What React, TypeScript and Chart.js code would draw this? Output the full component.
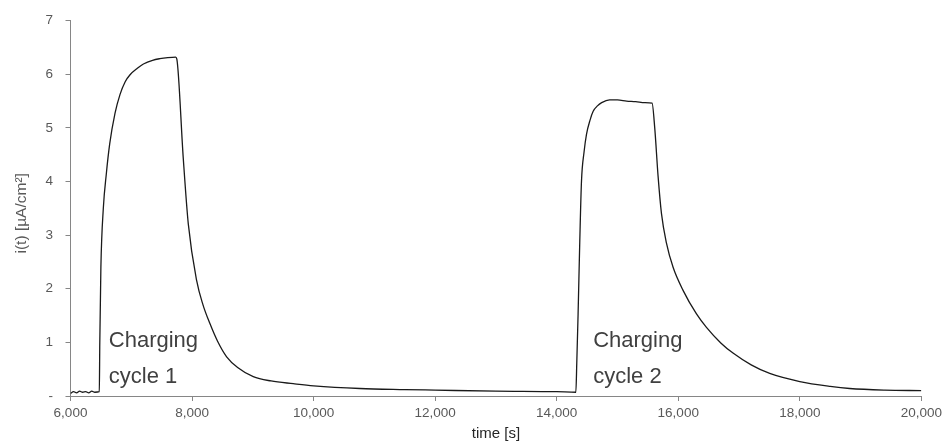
import React, { useEffect, useRef } from "react";
import { Chart, registerables } from "chart.js";

Chart.register(...registerables);

// time in seconds
const timeSeconds: number[] = [
  6000, 6050, 6100, 6150, 6200, 6250, 6300, 6350, 6400, 6474,
  6482, 6500, 6540, 6590, 6645, 6732, 6814, 6900, 6980, 7100,
  7200, 7350, 7470, 7600, 7730, 7750, 7855, 7938, 8076, 8180,
  8294, 8420, 8569, 8750, 9007, 9300, 9665, 10000, 10760, 11500,
  12000, 13000, 14000, 14315, 14330, 14352, 14380, 14408, 14450, 14490,
  14550, 14600, 14670, 14740, 14870, 15000, 15150, 15300, 15450, 15569,
  15613, 15668, 15724, 15806, 15915, 16079, 16300, 16464, 16700, 16901,
  17200, 17505, 18000, 18500, 18820, 19400, 20000,
];

// current density i(t) in µA/cm²
const currentValues: number[] = [
  0.05, 0.08, 0.06, 0.09, 0.07, 0.08, 0.06, 0.09, 0.07, 0.08,
  1.0, 2.4, 3.5, 4.15, 4.7, 5.27, 5.62, 5.86, 5.99, 6.11,
  6.19, 6.26, 6.29, 6.31, 6.32, 6.28, 4.44, 3.21, 2.15, 1.7,
  1.35, 1.02, 0.73, 0.53, 0.36, 0.28, 0.23, 0.19, 0.14, 0.12,
  0.11, 0.09, 0.08, 0.07, 0.6, 1.53, 2.9, 4.01, 4.55, 4.88,
  5.15, 5.31, 5.41, 5.47, 5.52, 5.52, 5.5, 5.49, 5.47, 5.46,
  5.0, 4.1, 3.4, 2.85, 2.4, 1.97, 1.53, 1.28, 0.99, 0.8,
  0.58, 0.42, 0.27, 0.18, 0.14, 0.11, 0.1,
];

const xTickValues: number[] = [6000, 8000, 10000, 12000, 14000, 16000, 18000, 20000];
const yTickValues: number[] = [0, 1, 2, 3, 4, 5, 6, 7];

const yAxisTitle = "i(t) [µA/cm²]";
const xAxisTitle = "time [s]";

const annotationLines: string[][] = [
  ["Charging", "cycle 1"],
  ["Charging", "cycle 2"],
];
const annotationTimes: number[] = [6630, 14600];

const FONT = "'Liberation Sans', Arial, sans-serif";

export default function App() {
  const canvasRef = useRef<HTMLCanvasElement | null>(null);

  useEffect(() => {
    const canvas = canvasRef.current;
    if (!canvas) return;

    const annotationPlugin = {
      id: "cycleLabels",
      afterDatasetsDraw(chart: any) {
        const ctx = chart.ctx;
        const xs = chart.scales.x;
        const area = chart.chartArea;
        ctx.save();
        ctx.font = `22px ${FONT}`;
        ctx.fillStyle = "#404040";
        ctx.textAlign = "left";
        ctx.textBaseline = "alphabetic";
        annotationLines.forEach((lines, i) => {
          const px = xs.getPixelForValue(annotationTimes[i]);
          const top = area.bottom - 49.5;
          lines.forEach((line, j) => {
            ctx.fillText(line, px, top + j * 36.2);
          });
        });
        // y axis title
        ctx.translate(22, (area.top + area.bottom) / 2 + 5);
        ctx.rotate(-Math.PI / 2);
        ctx.font = `15.5px ${FONT}`;
        ctx.fillStyle = "#595959";
        ctx.textAlign = "center";
        ctx.textBaseline = "middle";
        ctx.fillText(yAxisTitle, 0, 0);
        ctx.restore();
      },
    };

    const chart = new Chart(canvas, {
      type: "line",
      data: {
        datasets: [
          {
            data: timeSeconds.map((t, i) => ({ x: t, y: currentValues[i] })),
            borderColor: "#1a1a1a",
            borderWidth: 1.3,
            pointRadius: 0,
            cubicInterpolationMode: "monotone",
            fill: false,
          },
        ],
      },
      options: {
        animation: false,
        responsive: false,
        devicePixelRatio: 1,
        layout: { padding: { top: 19, right: 24.3, left: 0, bottom: 0 } },
        plugins: { legend: { display: false }, tooltip: { enabled: false } },
        scales: {
          x: {
            type: "linear",
            min: 6000,
            max: 20000,
            afterFit: (s: any) => {
              s.height = 47;
            },
            afterBuildTicks: (s: any) => {
              s.ticks = xTickValues.map((v) => ({ value: v }));
            },
            ticks: {
              color: "#595959",
              font: { family: FONT, size: 13.5 },
              padding: 4,
              maxRotation: 0,
              callback: (v: any) => Number(v).toLocaleString("en-US"),
            },
            grid: {
              drawOnChartArea: false,
              drawTicks: true,
              tickLength: 5,
              color: "#868686",
            },
            border: { display: true, color: "#868686", width: 1 },
            title: {
              display: true,
              text: xAxisTitle,
              color: "#262626",
              font: { family: FONT, size: 15 },
              padding: { top: 0, bottom: 0 },
            },
          },
          y: {
            type: "linear",
            min: 0,
            max: 7,
            afterFit: (s: any) => {
              s.width = 70.5;
            },
            afterBuildTicks: (s: any) => {
              s.ticks = yTickValues.map((v) => ({ value: v }));
            },
            ticks: {
              color: "#595959",
              font: { family: FONT, size: 13.5 },
              padding: 12.5,
              callback: (v: any) => (Number(v) === 0 ? "-" : String(v)),
            },
            grid: {
              drawOnChartArea: false,
              drawTicks: true,
              tickLength: 5,
              color: "#868686",
            },
            border: { display: true, color: "#868686", width: 1 },
            title: { display: false },
          },
        },
      },
      plugins: [annotationPlugin],
    } as any);

    return () => chart.destroy();
  }, []);

  return (
    <div style={{ position: "absolute", left: 0, top: 0, width: 946, height: 443 }}>
      <canvas ref={canvasRef} width={946} height={443} style={{ display: "block" }} />
    </div>
  );
}
